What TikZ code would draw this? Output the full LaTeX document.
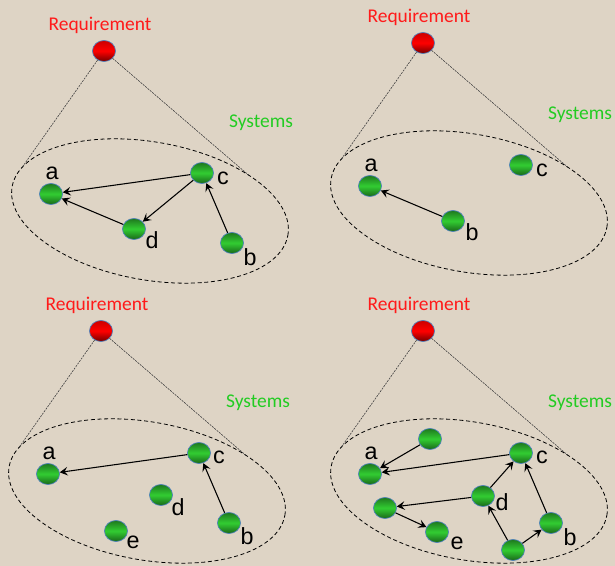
\documentclass[tikz,border=0pt]{standalone}
\usepackage{fontspec}
\setmainfont{Liberation Sans}
\newfontfamily\calibri{Carlito}
\usetikzlibrary{shapes.geometric,arrows.meta}

\definecolor{paper}{RGB}{222,212,197}
\definecolor{reqred}{RGB}{255,26,26}
\definecolor{sysgreen}{RGB}{34,204,34}
\definecolor{rim}{RGB}{79,129,189}
\definecolor{gdark}{RGB}{30,120,30}
\definecolor{glight}{RGB}{50,205,50}

\tikzset{
  ball/.style={ellipse,inner sep=0pt,minimum width=17.3pt,minimum height=15.8pt,
    draw=rim,line width=0.5pt},
  sysnode/.style={ball,top color=gdark,bottom color=gdark!85!black,middle color=glight},
  reqnode/.style={ball,top color=red!80!black,bottom color=red!45!black,middle color=red},
  reqtext/.style={text=reqred,font=\calibri\fontsize{14.6}{17}\selectfont},
  systext/.style={text=sysgreen,font=\calibri\fontsize{14.6}{17}\selectfont},
  lbl/.style={font=\fontsize{17.5}{20}\selectfont,inner sep=0pt},
  setline/.style={dash pattern=on 3pt off 2pt,line width=0.6pt},
  cone/.style={dash pattern=on 1.5pt off 0.8pt,line width=0.45pt,black!75},
  dep/.style={line width=0.8pt,-{Stealth[length=6pt,width=6.5pt,inset=2.4pt]}}
}

\begin{document}
\begin{tikzpicture}[x=0.75pt,y=0.75pt]
  \useasboundingbox[fill=paper] (0,0) rectangle (615,566);

  % requirement, cone and system set of each panel
  \foreach \dx/\dy/\p in {0/0/1, 319/8/2, -3/-280/3, 319/-280/4} {
    \begin{scope}[shift={(\dx,\dy)}]
      \node[reqtext] (req\p) at (100,541) {Requirement};
      \node[reqnode] (r\p) at (104,515) {};
      \node[systext] (sys\p) at (261,443) {Systems};
      \begin{scope}[shift={(150,355)},rotate=-10]
        \draw[setline] (0,0) ellipse [x radius=140,y radius=69];
        \coordinate (cl\p) at (162.7:140 and 69);
        \coordinate (cr\p) at (49.5:140 and 69);
      \end{scope}
      \draw[cone] (r\p) -- (cl\p);
      \draw[cone] (r\p) -- (cr\p);
    \end{scope}
  }

  % panel 1
  \node[sysnode] (p1a) at (51,372) {};
  \node[sysnode] (p1c) at (202,393) {};
  \node[sysnode] (p1d) at (134,337) {};
  \node[sysnode] (p1b) at (232,323) {};
  \node[lbl] (p1la) at (52,393) {a};
  \node[lbl] (p1lc) at (223,388) {c};
  \node[lbl] (p1ld) at (152,326) {d};
  \node[lbl] (p1lb) at (250,309) {b};
  \draw[dep] (p1c) -- (p1a);
  \draw[dep] (p1d) -- (p1a);
  \draw[dep] (p1c) -- (p1d);
  \draw[dep] (p1b) -- (p1c);

  % panel 2
  \begin{scope}[shift={(319,8)}]
    \node[sysnode] (p2a) at (51,372) {};
    \node[sysnode] (p2c) at (202,393) {};
    \node[sysnode] (p2b) at (134,337) {};
    \node[lbl] (p2la) at (52,393) {a};
    \node[lbl] (p2lc) at (223,388) {c};
    \node[lbl] (p2lb) at (153,326) {b};
    \draw[dep] (p2b) -- (p2a);
  \end{scope}

  % panel 3
  \begin{scope}[shift={(-3,-280)}]
    \node[sysnode] (p3a) at (51,372) {};
    \node[sysnode] (p3c) at (202,393) {};
    \node[sysnode] (p3d) at (164,351) {};
    \node[sysnode] (p3e) at (119,315) {};
    \node[sysnode] (p3b) at (232,323) {};
    \node[lbl] (p3la) at (52,393) {a};
    \node[lbl] (p3lc) at (222,389) {c};
    \node[lbl] (p3ld) at (181,339) {d};
    \node[lbl] (p3le) at (136,304) {e};
    \node[lbl] (p3lb) at (250,310) {b};
    \draw[dep] (p3c) -- (p3a);
    \draw[dep] (p3b) -- (p3c);
  \end{scope}

  % panel 4
  \begin{scope}[shift={(319,-280)}]
    \node[sysnode] (p4a) at (51,372) {};
    \node[sysnode] (p4f) at (111,407) {};
    \node[sysnode] (p4c) at (202,393) {};
    \node[sysnode] (p4d) at (164,350) {};
    \node[sysnode] (p4g) at (66,338) {};
    \node[sysnode] (p4e) at (118,314) {};
    \node[sysnode] (p4b) at (232,323) {};
    \node[sysnode] (p4h) at (194,296) {};
    \node[lbl] (p4la) at (52,393) {a};
    \node[lbl] (p4lc) at (223,389) {c};
    \node[lbl] (p4ld) at (183,344) {d};
    \node[lbl] (p4le) at (138,303) {e};
    \node[lbl] (p4lb) at (251,309) {b};
    \draw[dep] (p4f) -- (p4a);
    \draw[dep] (p4c) -- (p4a);
    \draw[dep] (p4d) -- (p4c);
    \draw[dep] (p4d) -- (p4g);
    \draw[dep] (p4g) -- (p4e);
    \draw[dep] (p4h) -- (p4d);
    \draw[dep] (p4h) -- (p4b);
    \draw[dep] (p4b) -- (p4c);
  \end{scope}
\end{tikzpicture}
\end{document}
